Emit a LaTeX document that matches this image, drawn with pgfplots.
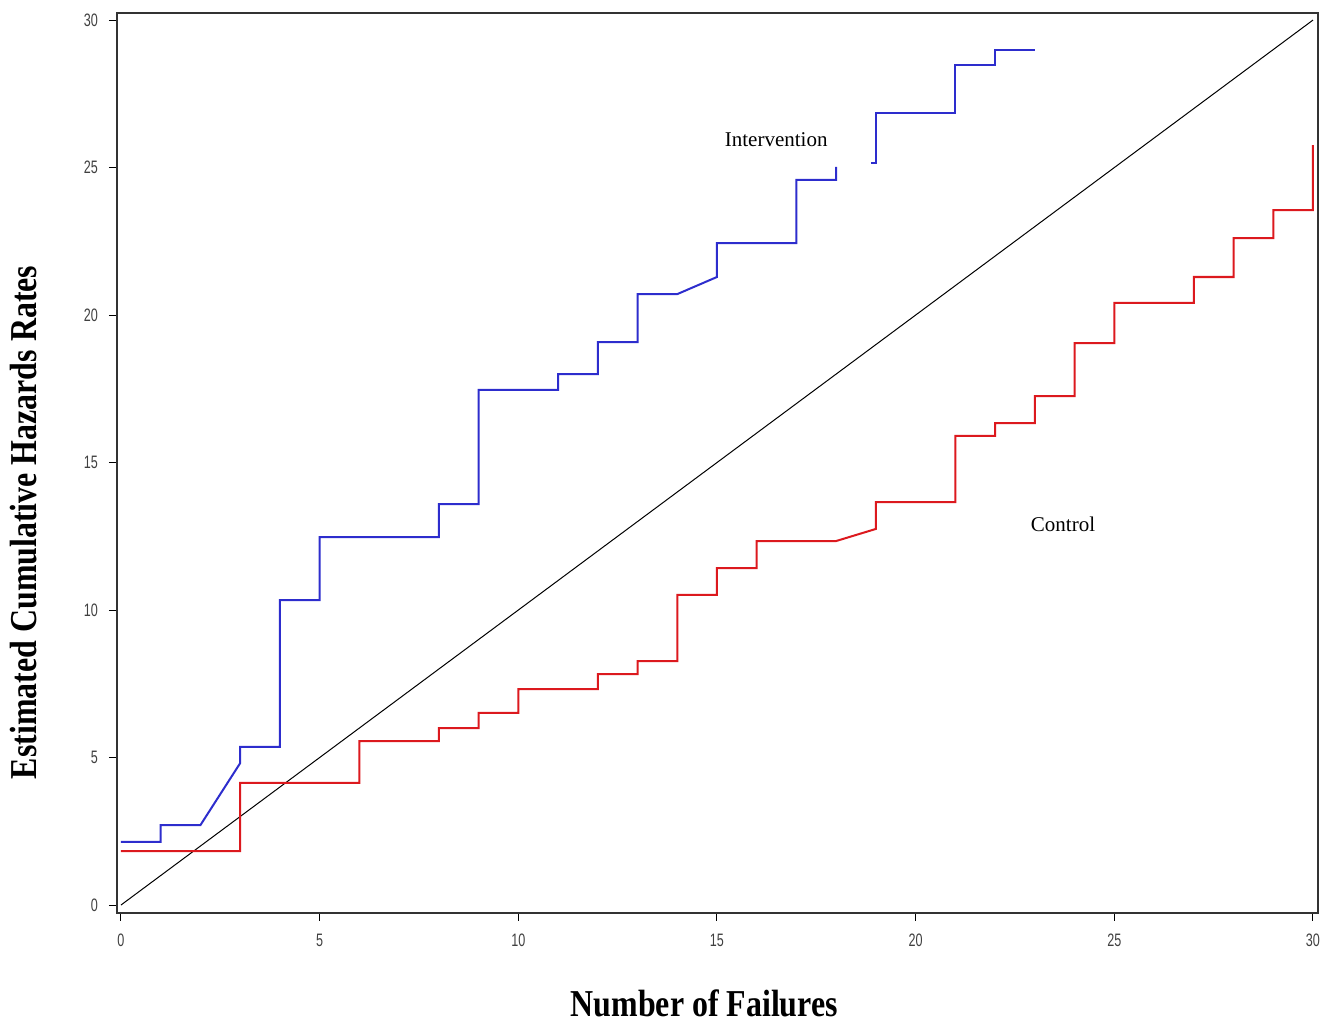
\documentclass[border=0pt]{standalone}
\usepackage{fontspec}
\setmainfont{Liberation Serif}
\newfontfamily\ticksans[FakeStretch=0.7]{Liberation Sans}
\newfontfamily\labserif[FakeStretch=0.84]{Liberation Serif}
\usepackage{pgfplots}
\pgfplotsset{compat=1.18}
\definecolor{ablue}{RGB}{45,45,205}
\definecolor{ared}{RGB}{220,25,30}
\begin{document}
\begin{tikzpicture}
\useasboundingbox (-58.5pt,-54.5pt) rectangle (606pt,456.5pt);
\begin{axis}[
  at={(0pt,0pt)}, anchor=south west,
  width=600.5pt, height=450pt, scale only axis,
  xmin=-0.1, xmax=30.126, ymin=-0.27, ymax=30.24,
  xtick={0,5,...,30}, ytick={0,5,...,30},
  xtick pos=left, ytick pos=left,
  tick align=outside, major tick length=4pt,
  tick style={black, line width=0.5pt},
  axis line style={black!80, line width=0.9pt},
  /pgf/number format/assume math mode=true,
  tick label style={font=\ticksans\fontsize{9}{10}\selectfont, text=black!75},
  xticklabel style={yshift=-3pt},
  yticklabel style={xshift=-2pt},
  xlabel={\labserif\bfseries\fontsize{19}{21}\selectfont Number of Failures},
  ylabel={\labserif\bfseries\fontsize{19}{21}\selectfont Estimated Cumulative Hazards Rates},
  xlabel style={at={(axis description cs:0.489,-0.1)}, anchor=center},
  ylabel style={at={(axis description cs:-0.0775,0.434)}, anchor=center},
  clip=false,
]
\addplot[black, line width=0.5pt] coordinates {(0,0) (30,30)};
\addplot[ablue, line width=1pt] coordinates {
(0,2.14) (1,2.14) (1,2.71) (2,2.71) (3,4.81) (3,5.36) (4,5.36) (4,10.34) (5,10.34) (5,12.47) (8,12.47) (8,13.59) (9,13.59) (9,17.46) (11,17.46) (11,18.0) (12,18.0) (12,19.08) (13,19.08) (13,20.71) (14,20.71) (15,21.29) (15,22.44) (17,22.44) (17,24.58) (18,24.58) (18,25.02)};
\addplot[ablue, line width=1pt] coordinates {
(18.88,25.15) (19,25.15) (19,26.85) (21,26.85) (21,28.47) (22,28.47) (22,28.98) (23,28.98)};
\addplot[ared, line width=1pt] coordinates {
(0,1.83) (3,1.83) (3,4.14) (6,4.14) (6,5.56) (8,5.56) (8,6.0) (9,6.0) (9,6.51) (10,6.51) (10,7.32) (12,7.32) (12,7.83) (13,7.83) (13,8.27) (14,8.27) (14,10.51) (15,10.51) (15,11.42) (16,11.42) (16,12.34) (18,12.34) (19,12.75) (19,13.66) (21,13.66) (21,15.9) (22,15.9) (22,16.34) (23,16.34) (23,17.25) (24,17.25) (24,19.05) (25,19.05) (25,20.41) (27,20.41) (27,21.29) (28,21.29) (28,22.61) (29,22.61) (29,23.56) (30,23.56) (30,25.76)};
\node[font=\fontsize{10.5}{12}\selectfont] at (axis cs:16.49,25.93) {Intervention};
\node[font=\fontsize{10.5}{12}\selectfont] at (axis cs:23.71,12.92) {Control};
\end{axis}
\end{tikzpicture}
\end{document}
